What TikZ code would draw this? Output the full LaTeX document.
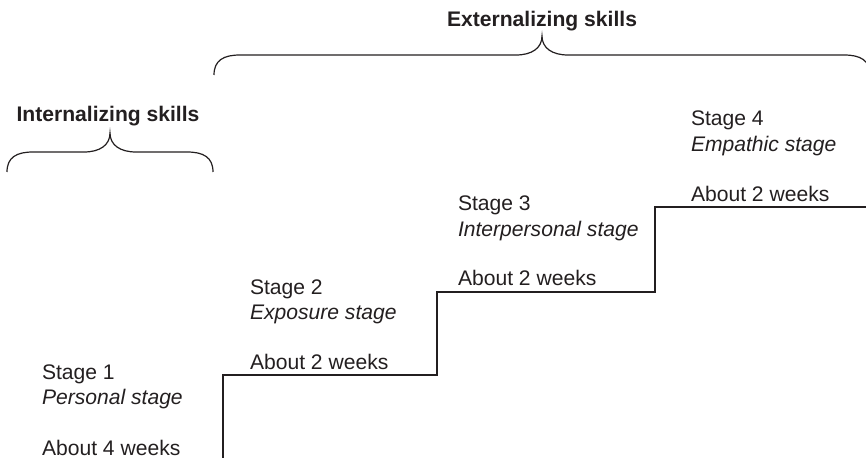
\documentclass[tikz,border=0pt]{standalone}
\usepackage{fontspec}
\setmainfont{Liberation Sans}
\definecolor{ink}{HTML}{231F20}
\begin{document}
\begin{tikzpicture}[x=0.5pt,y=-0.5pt,
  lbl/.style={anchor=base west,inner sep=0pt,outer sep=0pt,text=ink,font=\fontsize{10.55}{12}\selectfont},
  ttl/.style={anchor=base,inner sep=0pt,outer sep=0pt,text=ink,font=\fontsize{10.55}{12}\selectfont\bfseries},
  stair/.style={draw=ink,line width=0.6pt},
  brace/.style={draw=ink,line width=0.6pt}]
\useasboundingbox (0,0) rectangle (866,458);
\clip (0,0) rectangle (866,458);
% titles
\node[ttl] (ext) at (542,27) {Externalizing skills};
\node[ttl] (int) at (108,122) {Internalizing skills};
% braces
\draw[brace] (214,75) .. controls (214,60) and (224,55) .. (240,55) -- (516,55)
  .. controls (532,55) and (542,48) .. (542,36)
  .. controls (542,48) and (552,55) .. (568,55) -- (844,55)
  .. controls (860,55) and (870,60) .. (870,75);
\draw[brace] (7,172) .. controls (7,157) and (17,152) .. (33,152) -- (84,152)
  .. controls (100,152) and (110,145) .. (110,133)
  .. controls (110,145) and (120,152) .. (136,152) -- (187,152)
  .. controls (203,152) and (213,157) .. (213,172);
% staircase
\coordinate (s0) at (223,470);
\coordinate (s1) at (223,375);
\coordinate (s2) at (437,375);
\coordinate (s3) at (437,292);
\coordinate (s4) at (655,292);
\coordinate (s5) at (655,207);
\coordinate (s6) at (880,207);
\draw[stair] (s0) -- (s1) -- (s2) -- (s3) -- (s4) -- (s5) -- (s6);
% stage 1
\node[lbl] (st1) at (42,380) {Stage 1};
\node[lbl] (nm1) at (42,405) {\itshape Personal stage};
\node[lbl] (du1) at (42,455) {About 4 weeks};
% stage 2
\node[lbl] (st2) at (250,295) {Stage 2};
\node[lbl] (nm2) at (250,320) {\itshape Exposure stage};
\node[lbl] (du2) at (250,370) {About 2 weeks};
% stage 3
\node[lbl] (st3) at (458,211) {Stage 3};
\node[lbl] (nm3) at (458,237) {\itshape Interpersonal stage};
\node[lbl] (du3) at (458,286) {About 2 weeks};
% stage 4
\node[lbl] (st4) at (691,126) {Stage 4};
\node[lbl] (nm4) at (691,152) {\itshape Empathic stage};
\node[lbl] (du4) at (691,202) {About 2 weeks};
\end{tikzpicture}
\end{document}
